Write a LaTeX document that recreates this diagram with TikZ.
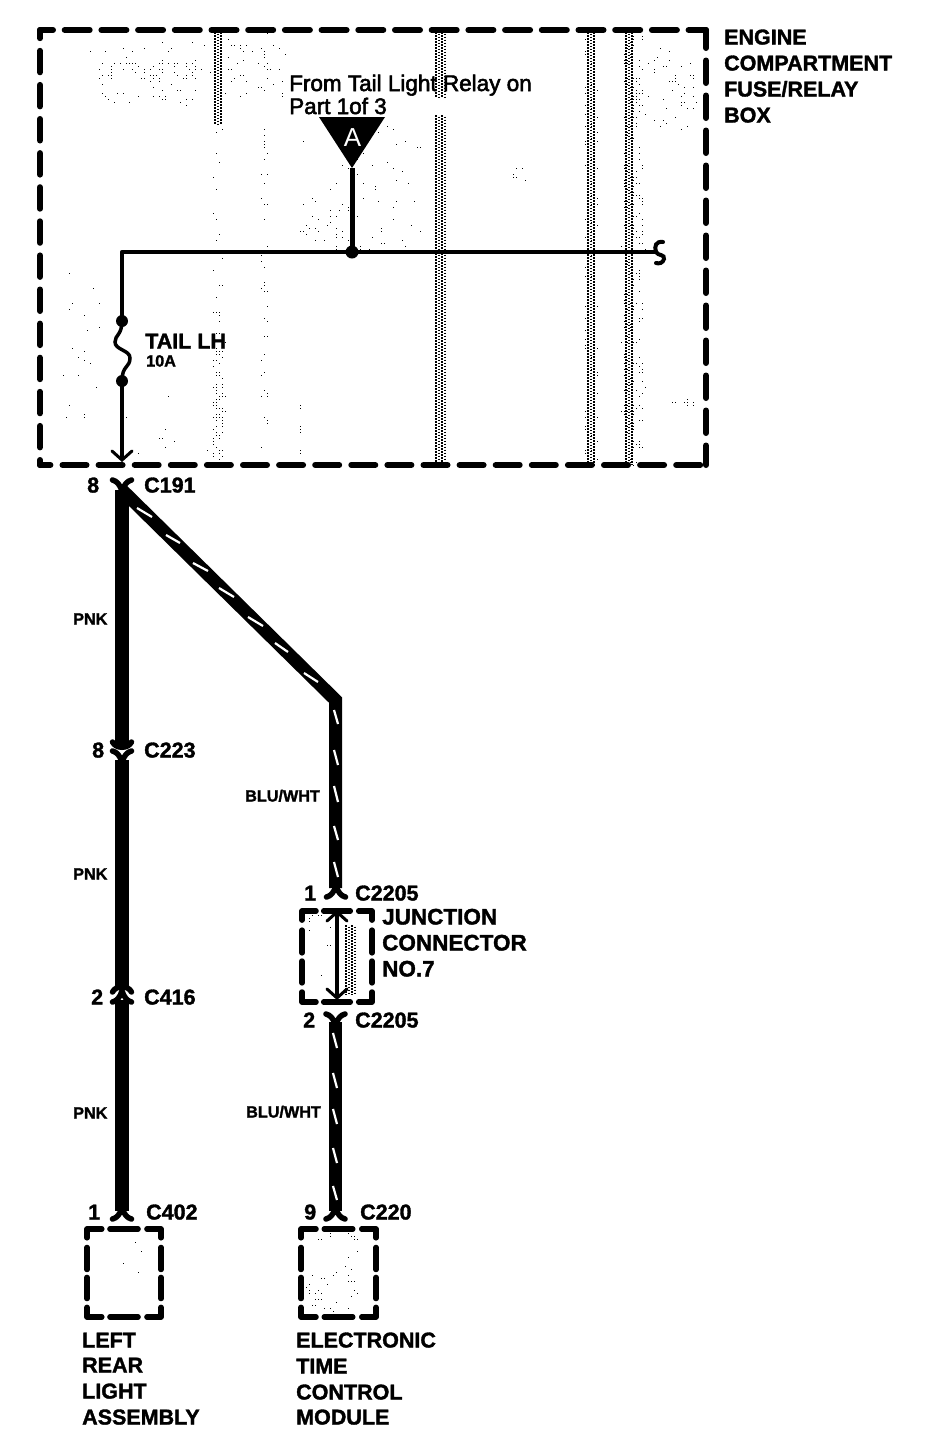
\documentclass[tikz,border=0pt]{standalone}
\usepackage{fontspec}
\setmainfont{Liberation Sans}
\newfontfamily\heavyface[FakeBold=2.4]{Liberation Sans}
\newfontfamily\labface[UprightFont=* Bold,FakeBold=1.6]{Liberation Sans}
\tikzset{
  lab/.style={anchor=west,inner sep=0pt,font=\fontsize{21.5}{21.5}\selectfont\labface,text height=15pt,text depth=0pt},
  widelab/.style={lab,font=\fontsize{22.5}{22.5}\selectfont\labface},
  smalllab/.style={anchor=west,inner sep=0pt,font=\fontsize{16.2}{16.2}\selectfont\labface,text height=11pt,text depth=0pt},
  rellab/.style={anchor=west,inner sep=0pt,font=\fontsize{22.5}{22.5}\selectfont\heavyface,text height=16pt,text depth=0pt},
  bigwire/.style={line width=13.5pt,line cap=butt},
  stripe/.style={white,line width=2.2pt},
  thinwire/.style={line width=4.5pt,line cap=round,line join=round},
  dashline/.style={line width=5.5pt,line cap=round,line join=round},
  boxdash/.style={line width=6pt,line cap=round},
  forkline/.style={line width=5.5pt,line cap=round},
  chev/.style={line width=3pt,line cap=round},
  yfork/.pic={\draw[forkline] (-9.5,0) .. controls (-5,1) and (-2,5) .. (0,11) .. controls (2,5) and (5,1) .. (9.5,0);},
  cupfork/.pic={\draw[forkline] (-9.5,0) .. controls (-6,7) and (6,7) .. (9.5,0);}
}
\newcommand{\dbox}[4]{%
  \begin{scope}[shift={(#1,#2)},xscale=#3/100,yscale=#4/100]
    \draw[dashline] (0,10) -- (0,0) -- (20,0);
    \draw[dashline] (31,0) -- (69,0);
    \draw[dashline] (81,0) -- (100,0) -- (100,10);
    \draw[dashline] (0,21) -- (0,46);
    \draw[dashline] (100,21) -- (100,46);
    \draw[dashline] (0,55) -- (0,79);
    \draw[dashline] (100,55) -- (100,79);
    \draw[dashline] (0,89) -- (0,100) -- (20,100);
    \draw[dashline] (31,100) -- (69,100);
    \draw[dashline] (81,100) -- (100,100) -- (100,89);
  \end{scope}}
% random specks snapped to a 3-unit screen
\newcommand{\speck}[5]{%
  \foreach \i in {1,...,#5}{%
    \pgfmathsetmacro{\sx}{3*round((#1+rnd*(#2-#1))/3)}%
    \pgfmathsetmacro{\sy}{3*round((#3+rnd*(#4-#3))/3)}%
    \fill (\sx,\sy) rectangle ++(1.4,1.4);}}
\newcommand{\band}[4]{%
  \foreach \k in {0,3,...,#4}{%
    \pgfmathsetmacro{\ph}{mod(\k,2)*1.5}%
    \draw[line width=1.5pt,dash pattern=on 1.5pt off 1.5pt,dash phase=\ph pt] (#1+\k,#2) -- (#1+\k,#3);}}
\begin{document}
\begin{tikzpicture}[x=1pt,y=-1pt]
\useasboundingbox (0,0) rectangle (928,1444);
\pgfmathsetseed{7}
% stipple
\band{436}{115}{465}{9}
\band{436}{32}{97}{9}
\band{588}{32}{465}{6}
\speck{584}{598}{32}{465}{120}
\band{626}{32}{465}{6}
\speck{622}{644}{32}{465}{240}
\band{215}{32}{125}{6}
\speck{212}{224}{125}{350}{25}
\speck{212}{224}{350}{460}{80}
\speck{260}{268}{32}{460}{50}
\speck{80}{210}{42}{72}{22}
\speck{95}{205}{60}{80}{60}
\speck{100}{200}{80}{105}{25}
\speck{225}{285}{40}{95}{40}
\speck{300}{420}{120}{250}{55}
\speck{300}{400}{200}{250}{30}
\speck{60}{100}{265}{420}{20}
\speck{125}{215}{390}{460}{10}
\speck{300}{300}{400}{460}{8}
\speck{645}{700}{45}{130}{45}
\speck{670}{695}{399}{405}{8}
\speck{510}{525}{165}{180}{6}
\band{346}{925}{995}{9}
\speck{306}{332}{914}{925}{6}
\speck{306}{332}{925}{990}{5}
\speck{306}{368}{1232}{1240}{8}
\speck{306}{340}{1270}{1312}{22}
\speck{345}{358}{1235}{1310}{14}
\speck{92}{155}{1240}{1300}{4}
% coordinates
\coordinate (tri) at (352,168);
\coordinate (trunk) at (122,252);
\coordinate (hend) at (656,252);
\coordinate (rel) at (352,252);
\coordinate (fuseA) at (122,321);
\coordinate (fuseB) at (122,381);
\coordinate (boxPin) at (122,460);
\coordinate (c191) at (122,490);
\coordinate (c223a) at (122,745);
\coordinate (c223b) at (122,760);
\coordinate (c416a) at (122,988);
\coordinate (c416b) at (122,1000);
\coordinate (c402) at (122,1211);
\coordinate (bend) at (335.5,700);
\coordinate (jA) at (335.5,888);
\coordinate (jT) at (337,912);
\coordinate (jB) at (337,998);
\coordinate (jC) at (335.5,1022);
\coordinate (c220) at (335.5,1211);
% engine box
\draw[boxdash,dash pattern=on 25pt off 11.7pt,dash phase=12pt] (40,30) -- (706,30);
\draw[boxdash,dash pattern=on 21.5pt off 12.6pt,dash phase=13.3pt] (40,30) -- (40,465);
\draw[boxdash,dash pattern=on 22.5pt off 12.5pt,dash phase=4.5pt] (706,30) -- (706,465);
\draw[boxdash,dash pattern=on 24pt off 12.1pt,dash phase=13.6pt] (40,465) -- (706,465);
% relay triangle and bus
\fill (319,117) -- (385,117) -- (tri) -- cycle;
\node[inner sep=0pt,white,font=\fontsize{26}{26}\selectfont] (triA) at (352.5,138) {A};
\draw[line width=5pt] (tri) -- (rel);
\draw[thinwire] (hend) -- (trunk) -- (fuseA);
\fill (rel) circle (6.5);
\draw[line width=4pt,line cap=round] (663,242) .. controls (656,241) and (654,246) .. (hend) .. controls (658,256) and (665,254) .. (664,259) .. controls (663,263) and (659,264) .. (656,263);
% fuse
\fill (fuseA) circle (6);
\fill (fuseB) circle (6);
\draw[line width=3.5pt] (fuseA) .. controls (122,335) and (115,335) .. (115,342) .. controls (115,350) and (130,350) .. (130,358) .. controls (130,368) and (122,365) .. (fuseB);
\draw[line width=4pt] (fuseB) -- (boxPin);
\draw[chev] (112,451) -- (boxPin) -- (132,451);
% left wire
\draw[bigwire] (c191) -- (c223a);
\draw[bigwire] (c223b) -- (c416a);
\draw[bigwire] (c416b) -- (c402);
\pic at (122,480) {yfork};
\pic at (122,742) {cupfork};
\pic at (122,751) {yfork};
\pic[yscale=-1] at (122,992) {cupfork};
\pic[yscale=-1] at (122,1002) {yfork};
\pic[yscale=-1] at (122,1219) {yfork};
% right wire
\draw[line width=13pt,line join=miter] (c191) -- (bend) -- (jA);
\foreach \xa/\ya/\xb/\yb in {137/508/152/517,166/535/180/543,193/563/208/571,219/588/234/597,248/617/263/626,275/643/288/652,304/673/318/682,334/710/338/724,334/750/338/765,334/786/338/802,334/826/338/840,334/862/338/877}
  \draw[stripe] (\xa,\ya) -- (\xb,\yb);
\pic[yscale=-1] at (336,897) {yfork};
\draw[line width=4pt] (jT) -- (jB);
\draw[chev] (327,921) -- (jT) -- (347,921);
\draw[chev] (327,989) -- (jB) -- (347,989);
\pic at (335.5,1014) {yfork};
\draw[line width=13.5pt] (jC) -- (c220);
\foreach \ya/\yb in {1033/1048,1073/1088,1109/1124,1148/1163,1186/1200}
  \draw[stripe] (333,\ya) -- (337,\yb);
\pic[yscale=-1] at (335.5,1219) {yfork};
% boxes
\dbox{302}{911}{70}{91}
\dbox{87}{1229}{74}{88}
\dbox{301}{1229}{75}{88}
% labels
\node[lab] (n1) at (724,37) {ENGINE};
\node[lab] (n2) at (724,63) {COMPARTMENT};
\node[lab] (n3) at (724,89) {FUSE/RELAY};
\node[lab] (n4) at (724,115) {BOX};
\node[rellab] (n5) at (289,83) {From Tail Light Relay on};
\node[rellab] (n6) at (289,106) {Part 1of 3};
\node[lab] (n7) at (145,341) {TAIL LH};
\node[smalllab] (n8) at (146,361) {10A};
\node[lab] (n9) at (87,485) {8};
\node[lab] (n10) at (144,485) {C191};
\node[smalllab] (n11) at (73,619) {PNK};
\node[lab] (n12) at (92,750) {8};
\node[lab] (n13) at (144,750) {C223};
\node[smalllab] (n14) at (73,874) {PNK};
\node[lab] (n15) at (91,997) {2};
\node[lab] (n16) at (144,997) {C416};
\node[smalllab] (n17) at (73,1113) {PNK};
\node[lab] (n18) at (88,1212) {1};
\node[lab] (n19) at (146,1212) {C402};
\node[lab] (n20) at (82,1340) {LEFT};
\node[lab] (n21) at (82,1365) {REAR};
\node[lab] (n22) at (82,1391) {LIGHT};
\node[lab] (n23) at (82,1417) {ASSEMBLY};
\node[smalllab] (n24) at (245,796) {BLU/WHT};
\node[lab] (n25) at (304,893) {1};
\node[lab] (n26) at (355,893) {C2205};
\node[widelab] (n27) at (382,917) {JUNCTION};
\node[widelab] (n28) at (382,943) {CONNECTOR};
\node[widelab] (n29) at (382,969) {NO.7};
\node[lab] (n30) at (303,1020) {2};
\node[lab] (n31) at (355,1020) {C2205};
\node[smalllab] (n32) at (246,1112) {BLU/WHT};
\node[lab] (n33) at (304,1212) {9};
\node[lab] (n34) at (360,1212) {C220};
\node[lab] (n35) at (296,1340) {ELECTRONIC};
\node[lab] (n36) at (296,1366) {TIME};
\node[lab] (n37) at (296,1392) {CONTROL};
\node[lab] (n38) at (296,1417) {MODULE};
\end{tikzpicture}
\end{document}
